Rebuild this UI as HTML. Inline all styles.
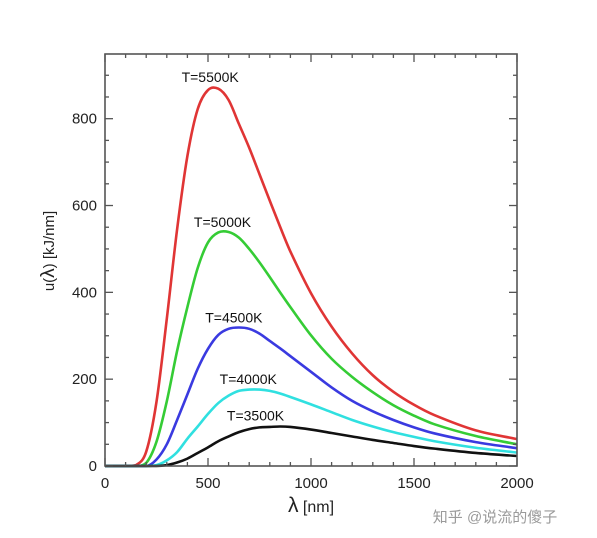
<!DOCTYPE html>
<html><head><meta charset="utf-8"><style>
body{margin:0;background:#fff;}
svg text{font-family:"Liberation Sans","DejaVu Sans",sans-serif;}
</style></head><body>
<svg width="597" height="533" viewBox="0 0 597 533" xmlns="http://www.w3.org/2000/svg">
<g id="plot"></g>
<text x="495" y="522" font-size="15" fill="#9a9a9a" font-family="Liberation Sans, Noto Sans CJK SC, sans-serif" text-anchor="middle">知乎 @说流的傻子</text>
</svg>
<script>
const lambdas=[0,100,150,200,250,300,350,400,450,500,550,600,650,700,750,800,850,900,1000,1100,1200,1300,1400,1500,1600,1800,2000];
const u5500=[0,0,2,33,148,339,545,714,822,866,869,843,788,733,672,611,551,494,398,321,259,209,171,141,117,82,62];
const u5000=[0,0,0,7,56,149,265,366,456,515,538,539,526,500,469,435,400,366,301,247,205,170,140,116,96,69,50];
const u4500=[0,0,0,0,15,50,106,165,224,270,302,316,319,316,305,288,271,253,217,181,150,126,106,89,75,55,41];
const u4000=[0,0,0,0,2,13,32,63,91,120,145,162,173,176,176,173,167,159,142,124,106,91,78,67,57,42,31];
const u3500=[0,0,0,0,0,2,8,17,30,43,57,68,78,85,89,90,91,90,84,76,68,60,53,46,40,30,23];
const seriesNames=["T=5500K","T=5000K","T=4500K","T=4000K","T=3500K"];
const xTicks=[0,500,1000,1500,2000];
const yTicks=[0,200,400,600,800];
const L=105,R=517,T=54,B=466;
const xMax=2000,yMax=949;
const X=v=>L+(v/xMax)*(R-L);
const Y=v=>B-(v/yMax)*(B-T);
const NS="http://www.w3.org/2000/svg";
const g=document.getElementById('plot');
function mk(t,a){const e=document.createElementNS(NS,t);for(const k in a)e.setAttribute(k,a[k]);g.appendChild(e);return e;}
const series=[[u5500,"#e03535"],[u5000,"#35cc35"],[u4500,"#3a3ae0"],[u4000,"#30e0e0"],[u3500,"#111111"]];
const labelPos=[[530,885],[590,550],[645,331],[715,189],[750,105]];
series.forEach((s,i)=>{
  const ys=s[0],n=lambdas.length;
  const m=lambdas.map((l,j)=>{
    if(ys[j]===0) return 0;
    const a=Math.max(0,j-1),b=Math.min(n-1,j+1);
    return (ys[b]-ys[a])/(lambdas[b]-lambdas[a]);
  });
  let d="M"+X(lambdas[0])+","+Y(ys[0]);
  for(let j=0;j<n-1;j++){
    const h=(lambdas[j+1]-lambdas[j])/3;
    const c1y=Math.max(0,ys[j]+m[j]*h), c2y=Math.max(0,ys[j+1]-m[j+1]*h);
    d+=" C"+X(lambdas[j]+h)+","+Y(c1y)+" "+X(lambdas[j+1]-h)+","+Y(c2y)+" "+X(lambdas[j+1])+","+Y(ys[j+1]);
  }
  const p=mk('path',{d:d,fill:'none',stroke:s[1],'stroke-width':2.6});
  
  
  const lp=labelPos[i];
  const t=mk('text',{x:X(lp[0])-4,y:Y(lp[1]),'font-size':14,'text-anchor':'middle',fill:'#111'});
  t.textContent=seriesNames[i];
  
  
});
for(let v=0;v<=xMax;v+=100){
  const len=v%500===0?8:4;
  mk('line',{x1:X(v),x2:X(v),y1:B,y2:B-len,stroke:'#555','stroke-width':1.3});
  mk('line',{x1:X(v),x2:X(v),y1:T,y2:T+len,stroke:'#555','stroke-width':1.3});
}
for(let v=0;v<=yMax;v+=50){
  const len=v%200===0?8:4;
  mk('line',{x1:L,x2:L+len,y1:Y(v),y2:Y(v),stroke:'#555','stroke-width':1.3});
  mk('line',{x1:R,x2:R-len,y1:Y(v),y2:Y(v),stroke:'#555','stroke-width':1.3});
}
const fr=mk('rect',{x:L,y:T,width:R-L,height:B-T,fill:'none',stroke:'#555','stroke-width':1.6});


xTicks.forEach(v=>{const t=mk('text',{x:X(v),y:B+22,'font-size':15,'text-anchor':'middle',fill:'#222'});t.textContent=v;

});
yTicks.forEach(v=>{const t=mk('text',{x:L-8,y:Y(v)+5,'font-size':15,'text-anchor':'end',fill:'#222'});t.textContent=v;

});
const xt=mk('text',{x:311,y:512,'font-size':16,'text-anchor':'middle',fill:'#222'});
xt.innerHTML='<tspan font-size="21">λ</tspan> [nm]';


const yt=mk('text',{x:0,y:0,'font-size':15,'text-anchor':'middle',fill:'#222',transform:'translate(54,251) rotate(-90)'});
yt.innerHTML='u(<tspan font-size="19">λ</tspan>) [kJ/nm]';


</script>
</body></html>
